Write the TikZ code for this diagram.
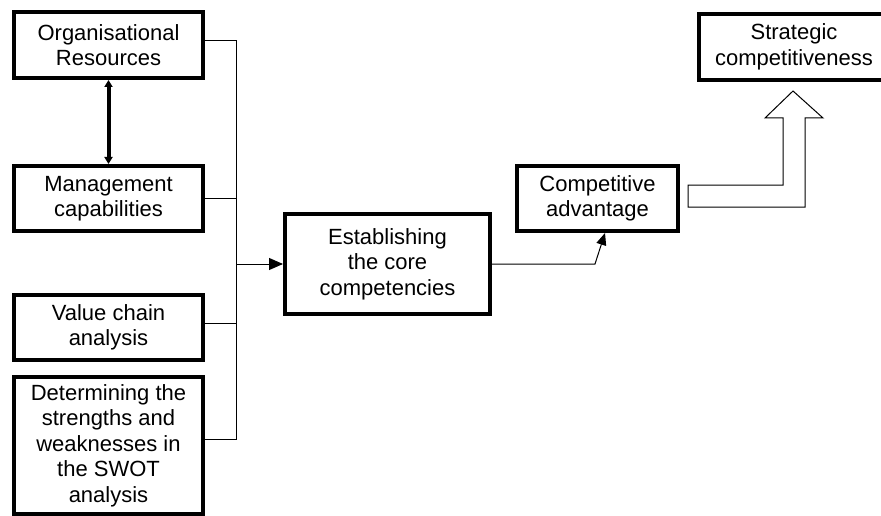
\documentclass[tikz,border=0pt]{standalone}
\usepackage{fontspec}
\setmainfont{Liberation Sans}
\usepackage{tikz}
\usetikzlibrary{positioning}
\usetikzlibrary{arrows.meta}

\tikzset{
  stagebox/.style={draw, line width=4pt, inner sep=0pt, align=center,
    font=\fontsize{22}{25.5}\selectfont},
  link/.style={line width=1pt},
}

\begin{document}
\begin{tikzpicture}[x=1pt, y=-1pt]
                \useasboundingbox (0,0) rectangle (881,516);

                % Nodes
                \node at (108.5,45) (orgres) [stagebox, minimum width=189pt, minimum height=66pt] {Organisational\\Resources};
                \node at (108.5,198.5) (mgmt) [stagebox, minimum width=189pt, minimum height=65pt] {Management\\capabilities};
                \node at (108.5,327.5) (valchain) [stagebox, minimum width=189pt, minimum height=65pt] {Value chain\\analysis};
                \node at (108.5,445.5) (swot) [stagebox, minimum width=189pt, minimum height=137pt] {Determining the\\strengths and\\weaknesses in\\the SWOT\\analysis};
                \node at (387.5,264) (core) [stagebox, minimum width=205pt, minimum height=100pt] {Establishing\\the core\\competencies};
                \node at (597.5,198.5) (compadv) [stagebox, minimum width=161pt, minimum height=65pt] {Competitive\\advantage};
                \node at (794,47) (strat) [stagebox, minimum width=190pt, minimum height=66pt] {Strategic\\competitiveness};

                \coordinate (bustop) at (236,41);
                \coordinate (busbot) at (236,439);
                \coordinate (bend) at (595,264);

                % Arrows
                \draw[{Triangle[length=7pt,width=8pt]}-{Triangle[length=7pt,width=8pt]}, line width=4pt] (orgres) -- (mgmt);
                \draw[link] ([yshift=4pt]orgres.east) -- (bustop) -- (busbot) -- ([yshift=6.5pt]swot.east);
                \draw[link] (mgmt.east) -- (mgmt.east -| bustop);
                \draw[link] ([yshift=4.5pt]valchain.east) -- ([yshift=4.5pt]valchain.east -| bustop);
                \draw[link, -{Triangle[length=14pt,width=12pt]}] (core.west -| bustop) -- (core.west);
                \draw[link, -{Triangle[length=12pt,width=10pt]}] (core.east) -- (bend) -- ([xshift=7.5pt]compadv.south);

                % Hollow arrow up to the strategic box
                \draw[link] (688,185) -- (783,185) -- (783,118) -- (765,118) -- (793,91)
                    -- (823,118) -- (805,118) -- (805,207) -- (688,207) -- cycle;

\end{tikzpicture}
\end{document}
